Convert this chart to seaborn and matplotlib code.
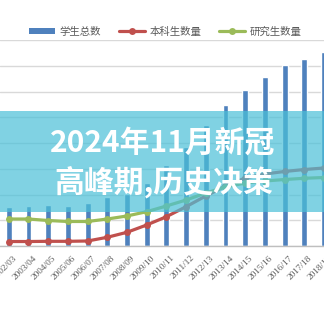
import matplotlib
matplotlib.use("Agg")
import matplotlib.pyplot as plt
import matplotlib.transforms as mtransforms
from matplotlib.patches import Rectangle
from matplotlib.lines import Line2D
import numpy as np
import pandas as pd
import seaborn as sns

years = ["2002/03", "2003/04", "2004/05", "2005/06", "2006/07", "2007/08",
         "2008/09", "2009/10", "2010/11", "2011/12", "2012/13", "2013/14",
         "2014/15", "2015/16", "2016/17", "2017/18", "2018/19"]
total_students = [748, 777, 796, 767, 835, 942, 1010, 1223, 1573, 1922,
                  2350, 2738, 3029, 3282, 3505, 3631, 3767]
undergrad = [87, 87, 91, 91, 97, 169, 266, 408, 569, 763, 971, 1165,
             1320, 1398, 1447, 1485, 1515]
postgrad = [524, 524, 495, 476, 476, 524, 583, 666, 777, 893, 1029, 1146,
            1223, 1262, 1291, 1315, 1330]
legend_labels = ["学生总数", "本科生数量", "研究生数量"]
overlay_lines = ["2024年11月新冠", "高峰期,历史决策"]

BLUE = "#4f81bd"
RED = "#c0504d"
GREEN = "#9bbb59"
GRAY = "#595959"

sns.set_theme(style="white")
plt.rcParams["font.family"] = ["Noto Sans CJK SC", "DejaVu Sans"]

W = H = 324
fig = plt.figure(figsize=(3.24, 3.24), dpi=100)
ax = fig.add_axes([0, (H - 246) / H, 1, 206 / H])

df = pd.DataFrame({"year": years, "total": total_students,
                   "ug": undergrad, "pg": postgrad, "idx": np.arange(len(years))})

sns.barplot(data=df, x="year", y="total", color=BLUE, width=0.3,
            saturation=1, ax=ax, zorder=2)
sns.lineplot(data=df, x="idx", y="ug", color=RED, linewidth=2.3, marker="o",
             markersize=5, markeredgewidth=0, ax=ax, zorder=3)
sns.lineplot(data=df, x="idx", y="pg", color=GREEN, linewidth=2.3, marker="o",
             markersize=5, markeredgewidth=0, ax=ax, zorder=3)

ax.set_ylim(0, 4000)
ax.set_yticks(np.arange(0, 4001, 500))
ax.set_yticklabels([])
ax.yaxis.grid(True, color="#d9d9d9", linewidth=1)
ax.set_axisbelow(True)
ax.set_xlim(-9 / 20.25, -9 / 20.25 + W / 20.25)
ax.set_xlabel("")
ax.set_ylabel("")
for s in ["top", "left", "right"]:
    ax.spines[s].set_visible(False)
ax.spines["bottom"].set_color("#bfbfbf")
ax.spines["bottom"].set_linewidth(1)
ax.tick_params(axis="both", length=0)
ax.set_xticks(np.arange(len(years)))
ax.set_xticklabels(years, rotation=45, ha="right", rotation_mode="anchor",
                   fontsize=6.7, color=GRAY, family="Liberation Serif")
offset = mtransforms.ScaledTranslation(4 / 100, -3 / 100, fig.dpi_scale_trans)
for lab in ax.get_xticklabels():
    lab.set_transform(lab.get_transform() + offset)

handles = [
    Rectangle((0, 0), 1, 1, facecolor=BLUE, edgecolor="none"),
    Line2D([], [], color=RED, linewidth=2.3, marker="o", markersize=5, markeredgewidth=0),
    Line2D([], [], color=GREEN, linewidth=2.3, marker="o", markersize=5, markeredgewidth=0),
]
leg = fig.legend(handles, legend_labels, loc="center", ncol=3,
                 bbox_to_anchor=(0.51, (H - 31.5) / H), frameon=False,
                 fontsize=7.5, handlelength=2.5, handleheight=0.45,
                 handletextpad=0.45, columnspacing=1.7, borderaxespad=0)
for t in leg.get_texts():
    t.set_color(GRAY)

band = Rectangle((0, (H - 212) / H), 1, 101 / H, transform=fig.transFigure,
                 facecolor="#4ac0d8", alpha=0.7, edgecolor="none", zorder=10)
fig.add_artist(band)
fig.text(0.502, (H - 143) / H, overlay_lines[0], ha="center", va="center",
         color="white", fontsize=21.5, fontweight="bold", zorder=11)
fig.text(0.504, (H - 182) / H, overlay_lines[1], ha="center", va="center",
         color="white", fontsize=21.5, fontweight="bold", zorder=11)

fig.savefig("out.png", dpi=100)
